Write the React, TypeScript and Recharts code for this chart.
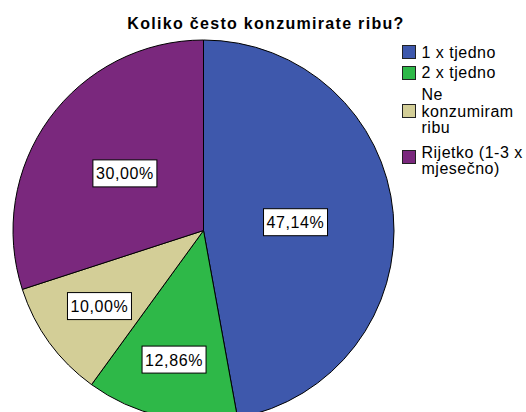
import React from 'react';
import { PieChart, Pie, Cell, Legend } from 'recharts';

const categories = ['1 x tjedno', '2 x tjedno', 'Ne konzumiram ribu', 'Rijetko (1-3 x mjesečno)'];
const legendLines = [['1 x tjedno'], ['2 x tjedno'], ['Ne', 'konzumiram', 'ribu'], ['Rijetko (1-3 x', 'mjesečno)']];
const percentValues = [47.14, 12.86, 10.0, 30.0];
const percentLabels = ['47,14%', '12,86%', '10,00%', '30,00%'];

const COLORS = ['#3E58AC', '#2EB848', '#D3CE97', '#7A287D'];
const LABEL_R = [0.485, 0.695, 0.675, 0.51];
const FONT = '"Liberation Sans", Arial, sans-serif';

// legend layout (relative to legend box)
const LEG_SQUARE_Y = [5, 26, 64, 110];
const LEG_BASELINES = [[18], [38], [60, 77, 93], [118, 134]];

const data = categories.map((name, i) => ({ name, value: percentValues[i], label: percentLabels[i] }));

const RADIAN = Math.PI / 180;

const renderLabel = (props: any) => {
  const { cx, cy, midAngle, outerRadius, index } = props;
  const r = outerRadius * LABEL_R[index];
  const x = cx + r * Math.cos(-midAngle * RADIAN);
  const y = cy + r * Math.sin(-midAngle * RADIAN);
  const w = 64;
  const h = 27;
  return (
    <g>
      <rect x={x - w / 2} y={y - h / 2} width={w} height={h} fill="#fff" stroke="#000" strokeWidth={1} />
      <text
        x={x}
        y={y + 6}
        textAnchor="middle"
        fontSize={16}
        letterSpacing={0.6}
        fontFamily={FONT}
        fill="#000"
      >
        {percentLabels[index]}
      </text>
    </g>
  );
};

const renderLegend = () => (
  <svg width={126} height={150} style={{ display: 'block' }}>
    {legendLines.map((lines, i) => (
      <g key={i}>
        <rect x={2.5} y={LEG_SQUARE_Y[i] + 0.5} width={13} height={13} fill={COLORS[i]} stroke="#222" strokeWidth={1} />
        {lines.map((l, j) => (
          <text
            key={j}
            x={21.5}
            y={LEG_BASELINES[i][j]}
            fontSize={16}
            letterSpacing={0.5}
            fontFamily={FONT}
            fill="#000"
          >
            {l}
          </text>
        ))}
      </g>
    ))}
  </svg>
);

export default function App() {
  return (
    <div style={{ position: 'absolute', left: 0, top: 0, width: 526, height: 412, background: '#fff' }}>
      <PieChart width={526} height={412} margin={{ top: 0, right: 0, bottom: 0, left: 0 }}>
        <text
          x={266}
          y={29}
          textAnchor="middle"
          fontSize={16}
          letterSpacing={1.3}
          fontWeight="bold"
          fontFamily={FONT}
          fill="#000"
        >
          Koliko često konzumirate ribu?
        </text>
        <Pie
          data={data}
          dataKey="value"
          nameKey="name"
          cx={203.5}
          cy={230.5}
          outerRadius={190.5}
          startAngle={90}
          endAngle={-270}
          stroke="#000"
          strokeWidth={1}
          label={renderLabel}
          labelLine={false}
          isAnimationActive={false}
        >
          {data.map((d, i) => (
            <Cell key={d.name} fill={COLORS[i]} />
          ))}
        </Pie>
        <Legend
          content={renderLegend}
          layout="vertical"
          verticalAlign="top"
          align="right"
          wrapperStyle={{ left: 400, top: 40, width: 126 }}
        />
      </PieChart>
    </div>
  );
}
